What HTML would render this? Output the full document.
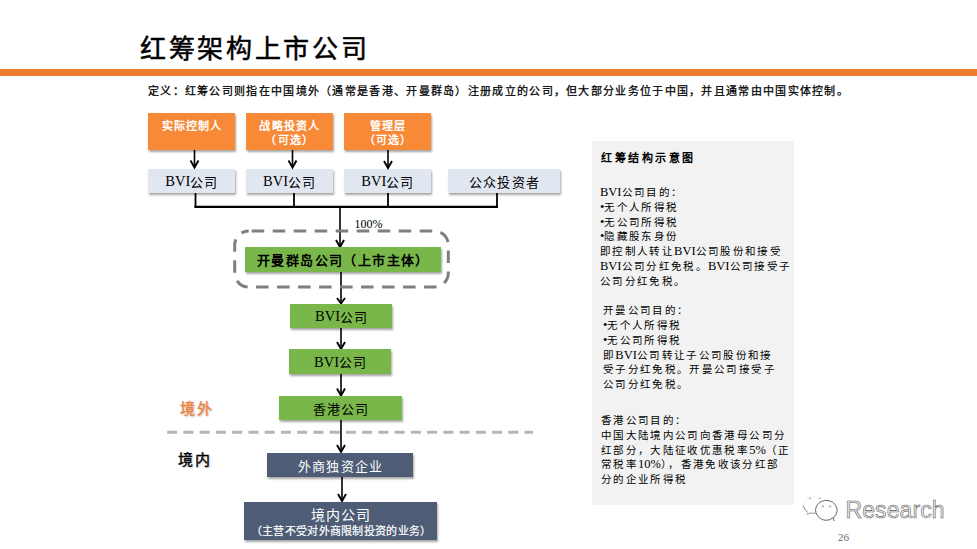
<!DOCTYPE html>
<html lang="zh-CN"><head><meta charset="utf-8">
<style>
*{margin:0;padding:0;box-sizing:border-box}
html,body{width:977px;height:549px;overflow:hidden;background:#fff}
body{position:relative;font-family:"Liberation Serif",serif;color:#000}
.a{position:absolute}
.title{left:140px;top:32px;font-size:26px;-webkit-text-stroke:0.5px #000;line-height:36px;white-space:nowrap;letter-spacing:2.7px}
.bar{left:0;top:69px;width:977px;height:7px;background:#EB7E2C}
.def{left:148px;top:83px;font-size:11px;line-height:16px;font-weight:normal;-webkit-text-stroke:0.25px #000;white-space:nowrap;letter-spacing:1.3px}
.box{position:absolute;display:flex;align-items:center;justify-content:center;text-align:center;white-space:nowrap;box-shadow:1px 2px 2px rgba(0,0,0,0.35)}
.or{background:#F78937;color:#fff;font-weight:bold;font-size:11px;line-height:14.5px;letter-spacing:1.2px;padding-left:1.2px;padding-top:3px}
.lb{background:#E1E7F1;color:#000;font-size:13px;letter-spacing:1.2px;padding-left:1px}
.gr{background:#79B74B;color:#000;font-size:13px;letter-spacing:1px;padding-left:1px}
.nv{background:#4E5D75;color:#fff;font-size:13px;letter-spacing:1.3px;padding-left:1.3px}
.ln{position:absolute;background:#000}
.panel{left:592px;top:141px;width:202px;height:364px;background:#F2F2F2}
.pt{position:absolute;white-space:nowrap;font-size:10.5px;line-height:14.75px;letter-spacing:2.35px;color:#000}
.L{font-size:12.5px;letter-spacing:0;line-height:0}
.box .L{font-size:14.5px}
</style></head><body>
<div class="a title">红筹架构上市公司</div>
<div class="a bar"></div>
<div class="a def">定义：红筹公司则指在中国境外（通常是香港、开曼群岛）注册成立的公司，但大部分业务位于中国，并且通常由中国实体控制。</div>

<div class="box or" style="left:148px;top:113px;width:87px;height:37px;align-items:flex-start;padding-top:5.5px">实际控制人</div>
<div class="box or" style="left:245.5px;top:113px;width:87.5px;height:37px">战略投资人<br>（可选）</div>
<div class="box or" style="left:344px;top:113px;width:87px;height:37px">管理层<br>（可选）</div>

<div class="box lb" style="left:148px;top:169px;width:87px;height:24px"><span class="L">BVI</span>公司</div>
<div class="box lb" style="left:245.5px;top:169px;width:87.5px;height:24px"><span class="L">BVI</span>公司</div>
<div class="box lb" style="left:344px;top:169px;width:87px;height:24px"><span class="L">BVI</span>公司</div>
<div class="box lb" style="left:448px;top:169px;width:112px;height:24px;letter-spacing:1.4px">公众投资者</div>

<svg class="a" style="left:0;top:0" width="977" height="549" viewBox="0 0 977 549">
  <g stroke="#000" stroke-width="1.9" fill="none" stroke-linejoin="miter" stroke-linecap="butt">
<line x1="194.5" y1="150" x2="194.5" y2="167" stroke-width="1.6"/><polyline points="190.5,160.5 194.5,167.5 198.5,160.5"/>
<line x1="292.5" y1="150" x2="292.5" y2="167" stroke-width="1.6"/><polyline points="288.5,160.5 292.5,167.5 296.5,160.5"/>
<line x1="388" y1="150" x2="388" y2="167" stroke-width="1.6"/><polyline points="384,161 388,168 392,161"/>
<line x1="195.5" y1="193" x2="195.5" y2="207" stroke-width="1.8"/>
<line x1="294" y1="193" x2="294" y2="207" stroke-width="1.8"/>
<line x1="388" y1="193" x2="388" y2="207" stroke-width="1.8"/>
<line x1="497" y1="193" x2="497" y2="207" stroke-width="1.8"/>
<line x1="194.4" y1="206.8" x2="498" y2="206.8" stroke-width="2.2"/>
<line x1="340" y1="206" x2="340" y2="246" stroke-width="1.6"/><polyline points="336,240 340,247 344,240"/>
<line x1="341" y1="272" x2="341" y2="302.5" stroke-width="1.6"/><polyline points="337,298 341,303.5 345,298"/>
<line x1="341" y1="328" x2="341" y2="348" stroke-width="1.6"/><polyline points="337,342 341,349 345,342"/>
<line x1="341" y1="374" x2="341" y2="394.5" stroke-width="1.6"/><polyline points="337,388.5 341,395.5 345,388.5"/>
<line x1="341" y1="420" x2="341" y2="451" stroke-width="1.6"/><polyline points="337,445 341,452 345,445"/>
<line x1="342" y1="477" x2="342" y2="500" stroke-width="1.6"/><polyline points="338,494 342,501 346,494"/>
</g>
  <rect x="234.7" y="231" width="213.6" height="56" rx="14" ry="14" fill="none" stroke="#7F7F7F" stroke-width="3" stroke-dasharray="12.5 8.5" stroke-dashoffset="-3"/>
  <line x1="167.2" y1="432.2" x2="533" y2="432.2" stroke="#B5B5B5" stroke-width="3" stroke-dasharray="10 6.245"/>
</svg>

<div class="a" style="left:354.5px;top:215.7px;font-size:12px;line-height:16px;transform:scaleY(1.12);transform-origin:0 100%">100%</div>

<div class="box gr" style="left:245px;top:247px;width:196px;height:25px;font-weight:bold;letter-spacing:1.4px;padding-left:1px">开曼群岛公司（上市主体）</div>
<div class="box gr" style="left:290px;top:304px;width:102px;height:24px"><span class="L">BVI</span>公司</div>
<div class="box gr" style="left:289px;top:349px;width:102px;height:25px"><span class="L">BVI</span>公司</div>
<div class="box gr" style="left:279px;top:396px;width:123px;height:24px">香港公司</div>

<div class="a" style="left:180px;top:400px;font-size:15px;line-height:18px;font-weight:normal;-webkit-text-stroke:0.35px #EE7F3A;letter-spacing:1.5px;color:#EE7F3A;text-shadow:1px 1px 2px rgba(0,0,0,0.3)">境外</div>
<div class="a" style="left:178px;top:451px;font-size:15px;line-height:18px;font-weight:normal;-webkit-text-stroke:0.35px #000;letter-spacing:1.5px;color:#000;text-shadow:1px 1px 2px rgba(0,0,0,0.3)">境内</div>

<div class="box nv" style="left:267px;top:453px;width:146px;height:24px">外商独资企业</div>
<div class="box nv" style="left:244px;top:502px;width:193px;height:38px;font-size:14px;line-height:16px;padding-top:3px"><div><span style="position:relative;top:1.5px">境内公司</span><br><span style="font-size:11px;font-weight:normal;-webkit-text-stroke:0.2px #fff;letter-spacing:0.3px">（主营不受对外商限制投资的业务）</span></div></div>

<div class="a panel"></div>
<div class="pt" style="left:601px;top:150.5px;font-weight:bold;font-size:11px;letter-spacing:2.5px;color:#000">红筹结构示意图</div>
<div class="pt" style="left:600px;top:186px"><span class="L">BVI</span>公司目的：<br><span class="L">•</span>无个人所得税<br><span class="L">•</span>无公司所得税<br><span class="L">•</span>隐藏股东身份<br>即控制人转让<span class="L">BVI</span>公司股份和接受<br><span class="L">BVI</span>公司分红免税。<span class="L">BVI</span>公司接受子<br>公司分红免税。</div>
<div class="pt" style="left:603px;top:304.3px">开曼公司目的：<br><span class="L">•</span>无个人所得税<br><span class="L">•</span>无公司所得税<br>即<span class="L">BVI</span>公司转让子公司股份和接<br>受子分红免税。开曼公司接受子<br>公司分红免税。</div>
<div class="pt" style="left:601px;top:414px">香港公司目的：<br>中国大陆境内公司向香港母公司分<br>红部分，大陆征收优惠税率<span class="L">5%</span>（正<br>常税率<span class="L">10%</span>），香港免收该分红部<br>分的企业所得税</div>

<div class="a" style="left:845.5px;top:494.5px;font-family:'Liberation Sans',sans-serif;font-size:23px;line-height:30px;color:#e8e8e8;-webkit-text-stroke:0.55px #5c5c5c;letter-spacing:0.1px">Research</div>
<svg class="a" style="left:795px;top:488px" width="50" height="40" viewBox="0 0 50 40" fill="none">
  <path d="M8.5 17 A12 10 0 0 1 22 8" stroke="#eeeeee" stroke-width="0.9"/>
  <path d="M8.2 17.5 Q9 22 13 24.5" stroke="#777" stroke-width="0.9"/>
  <path d="M11.5 26.5 L14.5 25.2 L20.5 25.2" stroke="#888" stroke-width="0.9"/>
  <path d="M14 11 l1.2 -1.2 l1.2 1.2 M23.5 11 l1.2 -1.2 l1.2 1.2" stroke="#888" stroke-width="0.8"/>
  <path d="M21 25 A10.8 9.8 0 1 1 38.5 29.5" stroke="#555" stroke-width="0.9"/>
  <path d="M21 25 Q24 32 31 32.3 Q35 32.5 38.5 29.5 L39 33" stroke="#555" stroke-width="0.9"/>
  <path d="M26.5 19 l1.3 -1.2 l1.3 1.2 M33.8 19 l1.3 -1.2 l1.3 1.2" stroke="#666" stroke-width="0.8"/>
</svg>
<div class="a" style="left:838px;top:531px;font-size:11px;line-height:12px;color:#666">26</div>
</body></html>
